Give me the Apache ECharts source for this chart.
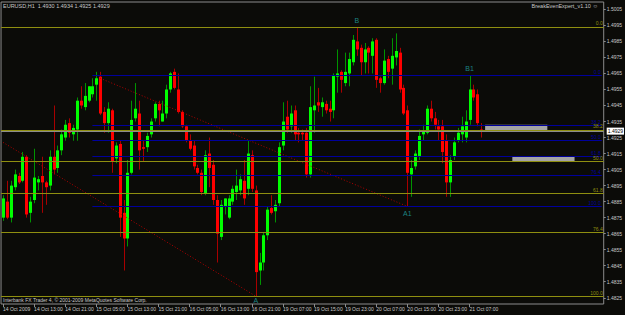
<!DOCTYPE html>
<html>
<head>
<meta charset="utf-8">
<script src="https://cdn.jsdelivr.net/npm/echarts@6/dist/echarts.min.js"></script>
<style>
    html, body { margin: 0; padding: 0; background: #0b0b08; }
    #chart { width: 625px; height: 315px; }
</style>
</head>
<body>
<div id="chart"></div>
<script>
    // EURUSD H1, 14 Oct 05:00 -> 21 Oct 10:00
    var openP  = [1.4875,1.4885,1.4875,1.4894,1.4901,1.4898,1.4913,1.4878,1.4886,1.4897,1.4901,1.4897,1.4895,1.4913,1.4906,1.4917,1.4925,1.4934,1.4927,1.4930,
                  1.4948,1.4944,1.4948,1.4952,1.4958,1.4963,1.4941,1.4934,1.4942,1.4912,1.4921,1.4878,1.4862,1.4903,1.4937,1.4940,1.4919,1.4919,1.4927,1.4937,
                  1.4946,1.4935,1.4940,1.4955,1.4966,1.4955,1.4941,1.4932,1.4923,1.4920,1.4906,1.4903,1.4890,1.4915,1.4908,1.4886,1.4863,1.4882,1.4875,1.4885,
                  1.4891,1.4892,1.4898,1.4893,1.4914,1.4892,1.4842,1.4847,1.4864,1.4881,1.4879,1.4884,1.4920,1.4938,1.4932,1.4942,1.4928,1.4928,1.4928,1.4902,
                  1.4942,1.4947,1.4944,1.4946,1.4943,1.4942,1.4963,1.4966,1.4959,1.4965,1.4972,1.4985,1.4981,1.4972,1.4981,1.4976,1.4986,1.4962,1.4959,1.4974,
                  1.4968,1.4975,1.4978,1.4956,1.4942,1.4902,1.4907,1.4913,1.4927,1.4928,1.4943,1.4937,1.4932,1.4932,1.4923,1.4897,1.4913,1.4923,1.4927,1.4925,
                  1.4936,1.4955,1.4952,1.4930];
    var highP  = [1.4889,1.4898,1.4898,1.4905,1.4903,1.4916,1.4914,1.4888,1.4918,1.4901,1.4913,1.4898,1.4917,1.4945,1.4920,1.4930,1.4936,1.4937,1.4933,1.4950,
                  1.4957,1.4959,1.4957,1.4962,1.4966,1.4966,1.4944,1.4947,1.4943,1.4922,1.4923,1.4886,1.4911,1.4948,1.4959,1.4948,1.4923,1.4928,1.4937,1.4947,
                  1.4948,1.4948,1.4958,1.4966,1.4968,1.4965,1.4942,1.4933,1.4927,1.4923,1.4908,1.4905,1.4917,1.4925,1.4911,1.4889,1.4886,1.4887,1.4889,1.4895,
                  1.4905,1.4902,1.4911,1.4923,1.4917,1.4895,1.4853,1.4866,1.4882,1.4889,1.4886,1.4922,1.4947,1.4948,1.4945,1.4945,1.4931,1.4930,1.4931,1.4957,
                  1.4963,1.4956,1.4950,1.4948,1.4948,1.4965,1.4980,1.4967,1.4978,1.4978,1.4989,1.4994,1.4983,1.4984,1.4982,1.4987,1.4987,1.4963,1.4980,1.4976,
                  1.4987,1.4990,1.4981,1.4958,1.4945,1.4911,1.4917,1.4930,1.4933,1.4945,1.4948,1.4941,1.4936,1.4936,1.4927,1.4914,1.4925,1.4931,1.4938,1.4942,
                  1.4964,1.4958,1.4955,1.4934];
    var lowP   = [1.4873,1.4874,1.4872,1.4892,1.4896,1.4897,1.4875,1.4872,1.4884,1.4892,1.4878,1.4883,1.4892,1.4902,1.4903,1.4914,1.4923,1.4925,1.4923,1.4923,
                  1.4943,1.4942,1.4947,1.4950,1.4948,1.4939,1.4928,1.4928,1.4903,1.4909,1.4863,1.4842,1.4857,1.4902,1.4935,1.4905,1.4910,1.4916,1.4925,1.4935,
                  1.4932,1.4935,1.4937,1.4953,1.4955,1.4940,1.4931,1.4922,1.4917,1.4905,1.4902,1.4889,1.4889,1.4894,1.4883,1.4847,1.4861,1.4877,1.4874,1.4883,
                  1.4886,1.4889,1.4883,1.4889,1.4891,1.4826,1.4833,1.4842,1.4861,1.4877,1.4872,1.4882,1.4917,1.4928,1.4928,1.4923,1.4922,1.4923,1.4900,1.4900,
                  1.4928,1.4941,1.4938,1.4940,1.4935,1.4937,1.4953,1.4953,1.4957,1.4957,1.4970,1.4976,1.4964,1.4965,1.4965,1.4965,1.4956,1.4953,1.4958,1.4962,
                  1.4958,1.4970,1.4953,1.4939,1.4882,1.4888,1.4905,1.4911,1.4923,1.4927,1.4935,1.4930,1.4923,1.4909,1.4888,1.4888,1.4911,1.4922,1.4922,1.4922,
                  1.4933,1.4948,1.4932,1.4925];
    var closeP = [1.4887,1.4875,1.4895,1.4902,1.4897,1.4913,1.4877,1.4885,1.4900,1.4899,1.4897,1.4894,1.4913,1.4905,1.4917,1.4927,1.4933,1.4928,1.4931,1.4948,
                  1.4945,1.4951,1.4957,1.4957,1.4962,1.4940,1.4934,1.4943,1.4910,1.4920,1.4875,1.4862,1.4903,1.4936,1.4943,1.4917,1.4918,1.4926,1.4935,1.4946,
                  1.4942,1.4940,1.4955,1.4965,1.4956,1.4941,1.4932,1.4923,1.4918,1.4907,1.4903,1.4891,1.4914,1.4906,1.4886,1.4865,1.4883,1.4887,1.4887,1.4893,
                  1.4895,1.4899,1.4887,1.4915,1.4893,1.4841,1.4847,1.4864,1.4880,1.4878,1.4883,1.4919,1.4935,1.4930,1.4940,1.4927,1.4927,1.4927,1.4902,1.4944,
                  1.4945,1.4945,1.4947,1.4942,1.4941,1.4964,1.4965,1.4961,1.4966,1.4974,1.4986,1.4980,1.4972,1.4980,1.4978,1.4985,1.4961,1.4959,1.4973,1.4966,
                  1.4976,1.4979,1.4955,1.4940,1.4903,1.4906,1.4915,1.4926,1.4929,1.4943,1.4937,1.4933,1.4930,1.4916,1.4897,1.4911,1.4922,1.4928,1.4932,1.4935,
                  1.4955,1.4950,1.4934,1.4929];

    // hour bars per trading day: [day, first hour, last hour]
    var sessions = [['14 Oct', 5, 23], ['15 Oct', 0, 23], ['16 Oct', 0, 23], ['19 Oct', 2, 23], ['20 Oct', 0, 23], ['21 Oct', 0, 10]];
    var emptyBars = 31;
    var timeLabels = ['14 Oct 2009', '14 Oct 13:00', '14 Oct 21:00', '15 Oct 05:00', '15 Oct 13:00', '15 Oct 21:00', '16 Oct 05:00', '16 Oct 13:00',
                      '16 Oct 21:00', '19 Oct 07:00', '19 Oct 15:00', '19 Oct 23:00', '20 Oct 07:00', '20 Oct 15:00', '20 Oct 23:00', '21 Oct 07:00'];
    var priceTicks = [1.4825, 1.4835, 1.4845, 1.4855, 1.4865, 1.4875, 1.4885, 1.4895, 1.4905, 1.4915, 1.4925, 1.4935, 1.4945, 1.4955, 1.4965, 1.4975, 1.4985, 1.4995, 1.5005];

    // fibonacci retracements: A -> B (yellow), A1 -> B1 (blue)
    var fibLevels = [0, 38.2, 50, 61.8, 76.4, 100];
    var fibA = 1.4826, fibB = 1.4994, fibBar = 0;
    var fibA1 = 1.4882, fibB1 = 1.4964, fibBar1 = 23;
    var bid = 1.4929;

    // points and trend lines: [bar, price]
    var pointNames = ['A', 'B', 'A1', 'B1'];
    var pointBars = [65, 91, 104, 120];
    var pointPrices = [1.4826, 1.4994, 1.4882, 1.4964];
    var pointGaps = [0, 2, 3, 3];
    var trend1 = [[0, 1.4922], [65, 1.4826]];
    var trend2 = [[25, 1.4962], [104, 1.4882]];

    // break-even boxes: [fromBar, toBar, top, bottom]
    var boxes = [[124, 140, 1.4933, 1.4929], [131, 147, 1.4913, 1.4910]];

    var cats = [];
    sessions.forEach(function (s) {
        for (var h = s[1]; h <= s[2]; h++) {
            cats.push(s[0] + ' ' + (h < 10 ? '0' : '') + h + ':00');
        }
    });
    for (var k = 0; k < emptyBars; k++) cats.push('pad' + k);

    var candleData = openP.map(function (o, i) {
        return [i, o, closeP[i], lowP[i], highP[i]];
    });

    var yellow = '#8f8f10', blue = '#00009c', textGray = '#c8c8c8';
    var font = 'Liberation Sans';

    function drawCandle(params, api) {
        var i = api.value(0);
        var o = api.coord([i, api.value(1)]);
        var c = api.coord([i, api.value(2)]);
        var l = api.coord([i, api.value(3)]);
        var h = api.coord([i, api.value(4)]);
        var up = api.value(2) >= api.value(1);
        var x = Math.round(o[0]) + 0.5;
        var top = Math.min(o[1], c[1]), bot = Math.max(o[1], c[1]);
        return {
            type: 'group',
            children: [
                { type: 'line', shape: { x1: x, y1: h[1], x2: x, y2: l[1] }, style: { stroke: up ? '#009400' : '#a80000', lineWidth: 1 } },
                { type: 'rect', shape: { x: x - 1.5, y: top, width: 3, height: Math.max(bot - top, 1) }, style: { fill: up ? '#00ff00' : '#ff0000' } }
            ]
        };
    }

    function fibLines(a, b, fromBar, color) {
        return fibLevels.map(function (lv) {
            var v = b - (b - a) * lv / 100;
            var lbl = { show: true, position: 'insideEndTop', formatter: lv.toFixed(1), color: color, fontSize: 5, distance: 1 };
            if (fromBar === 0) return { yAxis: v, lineStyle: { color: color }, label: lbl };
            return [{ coord: [cats[fromBar], v], lineStyle: { color: color }, label: lbl }, { coord: [cats[cats.length - 1], v] }];
        });
    }

    var isTick = function (index) { return index % 8 === 0 && index / 8 < timeLabels.length; };

    var chart = echarts.init(document.getElementById('chart'), null, { renderer: 'svg' });
    chart.setOption({
        animation: false,
        backgroundColor: '#0b0b08',
        textStyle: { fontFamily: font },
        grid: { left: 0, right: 19, top: 2, bottom: 11, show: true, borderColor: '#8c8c8c', borderWidth: 1, backgroundColor: '#0b0b08' },
        xAxis: {
            type: 'category',
            data: cats,
            boundaryGap: true,
            axisLine: { show: false },
            axisTick: { show: true, interval: isTick, alignWithLabel: true, length: 3, lineStyle: { color: '#8c8c8c' } },
            axisLabel: {
                interval: isTick, align: 'left', margin: 2, fontSize: 5, color: textGray,
                formatter: function (v, index) { return timeLabels[index / 8] || ''; }
            },
            splitLine: { show: false }
        },
        yAxis: {
            type: 'value',
            position: 'right',
            min: 1.48211,
            max: 1.50096,
            axisLine: { show: false },
            splitLine: { show: false },
            axisTick: { show: true, customValues: priceTicks, length: 2, lineStyle: { color: '#8c8c8c' } },
            axisLabel: { customValues: priceTicks, margin: 3, fontSize: 5, color: textGray, formatter: function (v) { return v.toFixed(4); } }
        },
        graphic: [
            { type: 'text', left: 3, top: 3, style: { text: 'EURUSD,H1  1.4930 1.4934 1.4925 1.4929', fill: textGray, fontSize: 5.5, fontFamily: font } },
            { type: 'text', right: 27, top: 3, style: { text: 'BreakEvenExpert_v1.10 \u263A', fill: textGray, fontSize: 5.5, fontFamily: font } },
            { type: 'text', left: 3, top: 297, style: { text: 'Interbank FX Trader 4, \u00A9 2001-2009 MetaQuotes Software Corp.', fill: textGray, fontSize: 5, fontFamily: font } }
        ],
        series: [
            {
                name: 'levels',
                type: 'line',
                data: [],
                markLine: {
                    silent: true,
                    precision: 6,
                    symbol: ['none', 'none'],
                    lineStyle: { type: 'solid', width: 1 },
                    data: fibLines(fibA, fibB, fibBar, yellow)
                        .concat(fibLines(fibA1, fibB1, fibBar1, blue))
                        .concat([{ yAxis: bid, lineStyle: { color: '#8c8c8c' },
                                   label: { show: true, position: 'end', formatter: bid.toFixed(4), color: '#000', backgroundColor: '#ffffff',
                                            fontSize: 5, padding: [1, 1], distance: 3 } }])
                },
                markArea: {
                    silent: true,
                    itemStyle: { color: '#a4a4a4' },
                    data: boxes.map(function (b) {
                        return [{ coord: [cats[b[0]], b[2]] }, { coord: [cats[b[1]], b[3]] }];
                    })
                }
            },
            { name: 'trend1', type: 'line', data: trend1, symbol: 'none', lineStyle: { color: '#b00000', type: [1, 2], width: 1 } },
            { name: 'trend2', type: 'line', data: trend2, symbol: 'none', lineStyle: { color: '#b00000', type: [1, 2], width: 1 } },
            {
                name: 'EURUSD',
                type: 'custom',
                renderItem: drawCandle,
                encode: { x: 0, y: [1, 2, 3, 4] },
                data: candleData
            },
            {
                name: 'points',
                type: 'scatter',
                symbolSize: 1,
                itemStyle: { color: 'rgba(0,0,0,0)' },
                data: pointNames.map(function (n, i) {
                    return {
                        name: n,
                        value: [pointBars[i], pointPrices[i]],
                        label: { show: true, formatter: n, position: n.charAt(0) === 'B' ? 'top' : 'bottom', distance: pointGaps[i], color: '#21a3a3', fontSize: 7 }
                    };
                })
            }
        ]
    });
</script>
</body>
</html>
